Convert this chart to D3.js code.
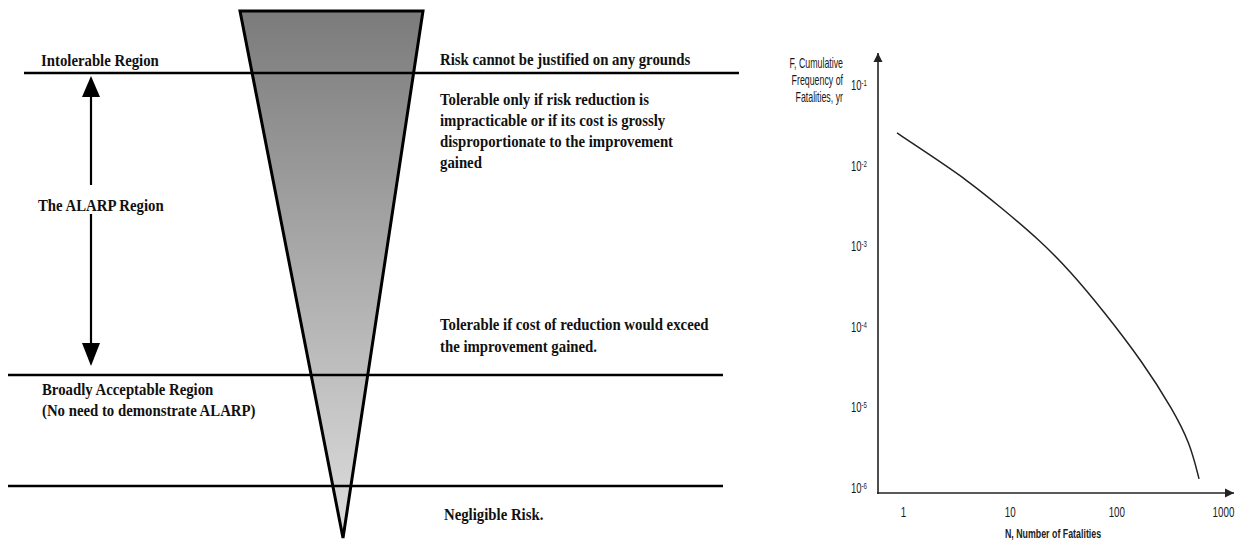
<!DOCTYPE html>
<html>
<head>
<meta charset="utf-8">
<script src="https://cdn.jsdelivr.net/npm/d3@7"></script>
<style>
  body { margin: 0; background: #fff; }
  svg { display: block; }
</style>
</head>
<body>
<svg width="1242" height="540"></svg>
<script>
// left panel: the ALARP triangle
var regionLabels = ['Intolerable Region', 'The ALARP Region', 'Broadly Acceptable Region', '(No need to demonstrate ALARP)']
var topNote = ['Risk cannot be justified on any grounds']
var alarpNote = ['Tolerable only if risk reduction is', 'impracticable or if its cost is grossly', 'disproportionate to the improvement', 'gained']
var lowNote = ['Tolerable if cost of reduction would exceed', 'the improvement gained.']
var bottomNote = ['Negligible Risk.']

// right panel: F-N curve
var fatalities = [0.88, 1.68, 4, 8.1, 19, 37, 75, 178, 340, 490, 596]
var frequency = [0.0254, 0.0143, 0.0066, 0.0031, 0.0012, 0.00049, 0.00016, 0.000036, 0.0000093, 0.0000036, 0.0000013]
var xTicks = [1, 10, 100, 1000]
var yTicks = [1e-1, 1e-2, 1e-3, 1e-4, 1e-5, 1e-6]
var yTitle = ['F, Cumulative', 'Frequency of', 'Fatalities, yr']
var xTitle = 'N, Number of Fatalities'

var svg = d3.select('svg')
var serif = '"Liberation Serif", "Times New Roman", serif'
var sans = '"Liberation Sans", Arial, sans-serif'

// text is squeezed horizontally like the source picture
function label (parent, str, x, y, opts) {
  opts = opts || {}
  return parent.append('text')
    .attr('transform', 'translate(' + x + ',' + y + ') scale(' + (opts.sx || 0.87) + ',1)')
    .attr('text-anchor', opts.anchor || 'start')
    .style('font-family', opts.font || serif)
    .style('font-weight', opts.weight || 'bold')
    .style('font-size', (opts.size || 17) + 'px')
    .style('fill', opts.fill || '#111')
    .text(str)
}

var defs = svg.append('defs')
var grad = defs.append('linearGradient')
    .attr('id', 'coneGrad')
    .attr('gradientUnits', 'userSpaceOnUse')
    .attr('x1', 0).attr('y1', 11).attr('x2', 0).attr('y2', 538)
grad.append('stop').attr('offset', '0%').attr('stop-color', '#7b7b7b')
grad.append('stop').attr('offset', '100%').attr('stop-color', '#dedede')

defs.append('marker')
    .attr('id', 'head')
    .attr('viewBox', '0 0 10 10')
    .attr('refX', 10).attr('refY', 5)
    .attr('markerWidth', 9).attr('markerHeight', 10)
    .attr('markerUnits', 'userSpaceOnUse')
    .attr('orient', 'auto')
  .append('path')
    .attr('d', 'M0,0L10,5L0,10Z')
    .attr('fill', '#222')

var left = svg.append('g')

// the cone
left.append('path')
    .attr('d', d3.line()([[240, 11], [423, 11], [343, 538]]) + 'Z')
    .attr('fill', 'url(#coneGrad)')
    .attr('stroke', '#000')
    .attr('stroke-width', 3)
    .attr('stroke-linejoin', 'miter')

// region boundaries
var bounds = [[24, 739, 73], [8, 723, 375], [8, 723, 486]]
left.selectAll('line.bound')
    .data(bounds)
  .enter().append('line')
    .attr('class', 'bound')
    .attr('x1', function (d) { return d[0] })
    .attr('x2', function (d) { return d[1] })
    .attr('y1', function (d) { return d[2] })
    .attr('y2', function (d) { return d[2] })
    .attr('stroke', '#000')
    .attr('stroke-width', 2.6)

// double arrow for the ALARP region
var arrowX = 91
left.append('line')
    .attr('x1', arrowX).attr('x2', arrowX).attr('y1', 96).attr('y2', 185)
    .attr('stroke', '#000').attr('stroke-width', 2.2)
left.append('line')
    .attr('x1', arrowX).attr('x2', arrowX).attr('y1', 214).attr('y2', 344)
    .attr('stroke', '#000').attr('stroke-width', 2.2)
left.append('path')
    .attr('d', d3.line()([[arrowX, 76], [arrowX + 9, 97], [arrowX - 9, 97]]) + 'Z')
    .attr('fill', '#000')
left.append('path')
    .attr('d', d3.line()([[arrowX, 366], [arrowX + 9, 343], [arrowX - 9, 343]]) + 'Z')
    .attr('fill', '#000')

label(left, regionLabels[0], 41, 66)
label(left, regionLabels[1], 38, 211)
label(left, regionLabels[2], 42, 395)
label(left, regionLabels[3], 42, 416)

label(left, topNote[0], 440, 65)
alarpNote.forEach(function (s, i) { label(left, s, 440, 105 + i * 21) })
lowNote.forEach(function (s, i) { label(left, s, 440, 330 + i * 22) })
label(left, bottomNote[0], 444, 520)

// F-N chart
var x = d3.scaleLog().domain([1, 1000]).range([903, 1223])
var y = d3.scaleLog().domain([1e-6, 1e-1]).range([488, 85])
var axisX = 878
var axisY = 493

var right = svg.append('g')

right.append('line')
    .attr('x1', axisX).attr('x2', axisX).attr('y1', axisY + 1).attr('y2', 53)
    .attr('stroke', '#222').attr('stroke-width', 1.6)
    .attr('marker-end', 'url(#head)')
right.append('line')
    .attr('x1', axisX - 1).attr('x2', 1234).attr('y1', axisY).attr('y2', axisY)
    .attr('stroke', '#222').attr('stroke-width', 1.6)
    .attr('marker-end', 'url(#head)')

var tickFont = function (g) {
  g.select('.domain').remove()
  g.selectAll('text')
      .style('font-family', sans)
      .style('font-size', '14px')
      .style('fill', '#1a1a1a')
}

var gx = right.append('g')
    .attr('transform', 'translate(0,' + axisY + ')')
    .call(d3.axisBottom(x).tickValues(xTicks).tickSize(0).tickPadding(14).tickFormat(d3.format('d')))
    .call(tickFont)
gx.selectAll('text')
    .attr('transform', 'scale(0.7,1)')
    .attr('x', 0)

var gy = right.append('g')
    .attr('transform', 'translate(' + axisX + ',0)')
    .call(d3.axisLeft(y).tickValues(yTicks).tickSize(0).tickPadding(11).tickFormat(function () { return '10' }))
    .call(tickFont)
gy.selectAll('text')
    .attr('x', 0)
    .attr('transform', 'translate(-11,0) scale(0.68,1)')
  .append('tspan')
    .attr('dy', '-0.45em')
    .style('font-size', '9px')
    .text(function (d) { return Math.round(Math.log10(d)) })

yTitle.forEach(function (s, i) {
  label(right, s, 843, 68 + i * 17, { font: sans, weight: 'normal', size: 14, sx: 0.63, anchor: 'end', fill: '#1a1a1a' })
})
label(right, xTitle, 1053, 538, { font: sans, weight: 'bold', size: 13, sx: 0.68, anchor: 'middle', fill: '#222' })

var pts = fatalities.map(function (n, i) { return [n, frequency[i]] })
right.append('path')
    .datum(pts)
    .attr('fill', 'none')
    .attr('stroke', '#222')
    .attr('stroke-width', 1.5)
    .attr('d', d3.line()
      .curve(d3.curveBasis)
      .x(function (d) { return x(d[0]) })
      .y(function (d) { return y(d[1]) }))
</script>
</body>
</html>
